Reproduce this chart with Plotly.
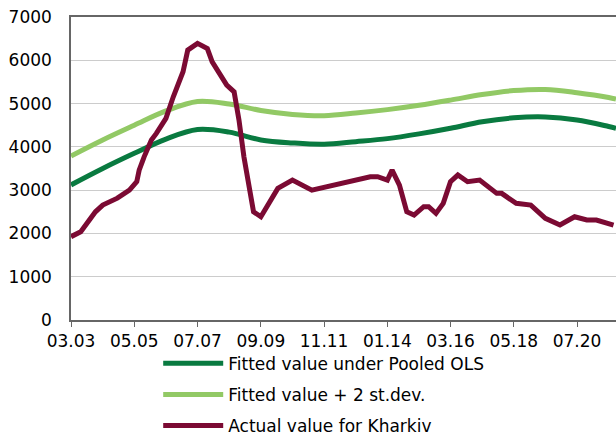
import plotly.graph_objects as go

# Actual value for Kharkiv (monthly points)
actual_dates = [
    "2003-03", "2003-07", "2004-01", "2004-04", "2004-10", "2005-03", "2005-06", "2005-07",
    "2005-09", "2005-12", "2006-02", "2006-06", "2006-09", "2007-01", "2007-03", "2007-07",
    "2007-11", "2008-01", "2008-07", "2008-10", "2008-12", "2009-02", "2009-06", "2009-09",
    "2010-04", "2010-10", "2011-06", "2011-12", "2012-05", "2012-11", "2013-06", "2013-09",
    "2014-01", "2014-03", "2014-06", "2014-09", "2014-12", "2015-04", "2015-06", "2015-09",
    "2015-12", "2016-03", "2016-06", "2016-10", "2017-03", "2017-10", "2017-12", "2018-06",
    "2018-12", "2019-06", "2019-12", "2020-06", "2020-11", "2021-03", "2021-10",
]
actual_vals = [
    1925, 2040, 2500, 2655, 2815, 3000, 3195, 3460,
    3770, 4157, 4310, 4660, 5157, 5735, 6235, 6390,
    6270, 5965, 5427, 5270, 4620, 3770, 2500, 2386,
    3040, 3233, 3000, 3080, 3157, 3233, 3310, 3310,
    3233, 3464, 3118, 2500, 2425, 2617, 2617, 2463,
    2695, 3195, 3349, 3195, 3233, 2926, 2926, 2695,
    2655, 2348, 2194, 2386, 2310, 2310, 2194,
]

fit_dates = [
    "2003-03", "2004-04", "2005-05", "2006-06", "2007-07", "2008-08", "2009-09", "2010-10",
    "2011-11", "2012-12", "2014-01", "2015-02", "2016-03", "2017-04", "2018-05", "2019-06",
    "2020-07", "2021-08", "2021-11",
]
fit_ols = [
    3120, 3500, 3850, 4180, 4400, 4340, 4160, 4090,
    4060, 4120, 4190, 4300, 4430, 4580, 4670, 4690,
    4620, 4470, 4430,
]
fit_plus2sd = [
    3790, 4160, 4500, 4830, 5050, 4990, 4840, 4750,
    4720, 4780, 4860, 4960, 5080, 5210, 5300, 5325,
    5250, 5140, 5104,
]

DARK_GREEN = "#097a40"
LIGHT_GREEN = "#92c965"
MAROON = "#7b0a33"

fig = go.Figure()
fig.add_trace(go.Scatter(x=fit_dates, y=fit_ols, mode="lines", name="Fitted value under Pooled OLS",
                         line=dict(color=DARK_GREEN, width=5, shape="spline"), legendgroup="a"))
fig.add_trace(go.Scatter(x=fit_dates, y=fit_plus2sd, mode="lines", name="Fitted value + 2 st.dev.",
                         line=dict(color=LIGHT_GREEN, width=5, shape="spline"), legendgroup="b"))
fig.add_trace(go.Scatter(x=actual_dates, y=actual_vals, mode="lines", name="Actual value for Kharkiv",
                         line=dict(color=MAROON, width=5), legendgroup="c"))

fig.update_layout(
    width=616, height=439, template="plotly_white",
    paper_bgcolor="white", plot_bgcolor="white",
    font=dict(family="DejaVu Sans", size=17, color="#000000"),
    margin=dict(l=71, r=0, t=17, b=119, autoexpand=False),
    legend=dict(x=0.16, y=-0.085, xanchor="left", yanchor="top", orientation="v",
                tracegroupgap=6, itemwidth=60, font=dict(size=17), bgcolor="rgba(0,0,0,0)"),
    xaxis=dict(type="date", range=["2003-03-01", "2021-11-01"], tick0="2003-03-01", dtick="M26",
               tickformat="%m.%y", showgrid=False, showline=True, linecolor="#666666", linewidth=1.5,
               mirror=True, ticks="outside", ticklen=5, tickcolor="#666666", zeroline=False,
               automargin=False),
    yaxis=dict(range=[0, 7000], dtick=1000, showgrid=True, gridcolor="#cccccc", gridwidth=1,
               showline=True, linecolor="#666666", linewidth=1.5, zeroline=False,
               ticks="", ticklabelstandoff=14, automargin=False),
)

fig.write_html("out.html", config={"displayModeBar": False},
               post_script="document.body.style.margin='0';document.body.style.overflow='hidden';")
